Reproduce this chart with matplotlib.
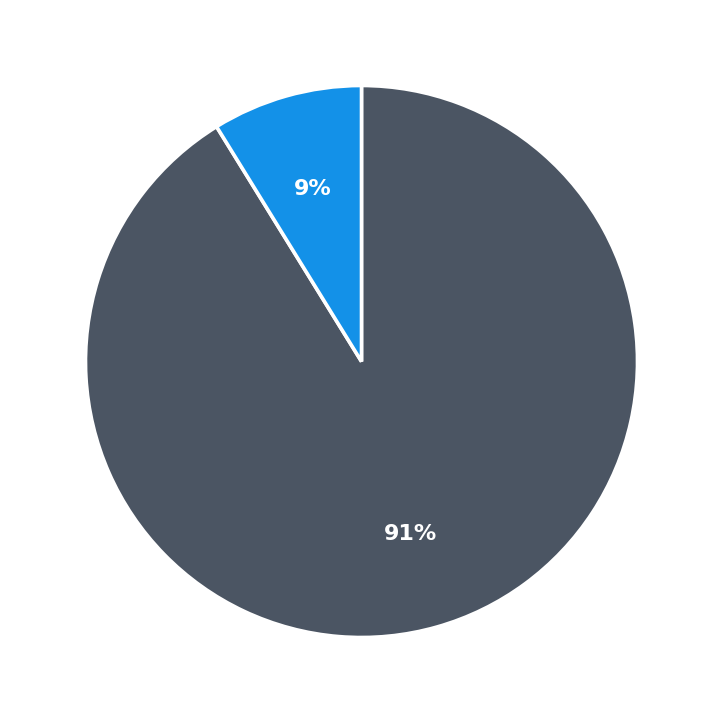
import matplotlib
matplotlib.use("Agg")
import matplotlib.pyplot as plt

labels = ["Other", "Share"]
values = [91.2, 8.8]
colors = ["#4B5563", "#1391E8"]

fig = plt.figure(figsize=(7.23, 7.23), dpi=100)
ax = fig.add_axes([0, 0, 1, 1])
wedges, texts, autotexts = ax.pie(
    values, colors=colors, startangle=90, counterclock=False,
    autopct=lambda p: f"{p:.0f}%", pctdistance=0.65,
    wedgeprops=dict(edgecolor="white", linewidth=2.6),
    textprops=dict(color="white", fontsize=16, fontweight="bold"),
)
lim = 723 / 2 / 276
ax.set_xlim(-lim, lim)
ax.set_ylim(-lim, lim)
ax.set_aspect("equal")
ax.axis("off")
fig.savefig("out.png", dpi=100, facecolor="white")
